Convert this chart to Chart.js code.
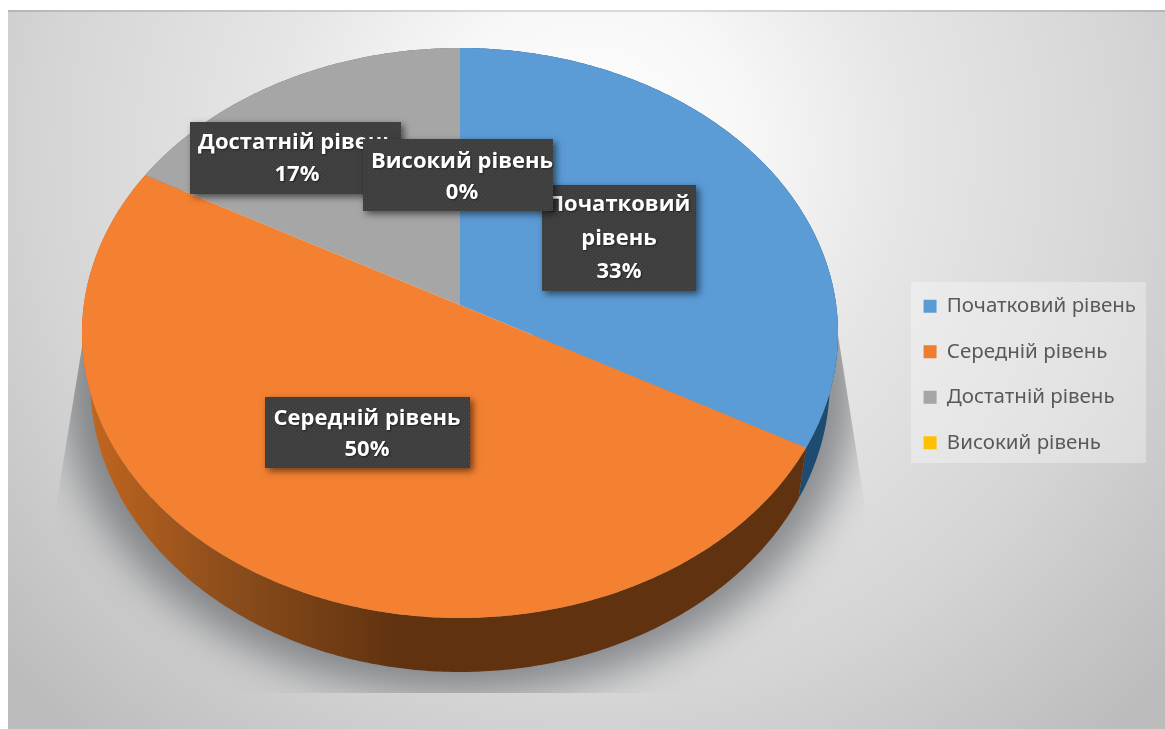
<!DOCTYPE html>
<html lang="uk">
<head>
<meta charset="utf-8">
<title>Рівні</title>
<style>
  html, body { margin: 0; padding: 0; background: #ffffff; }
  #wrap { position: absolute; left: 0; top: 0; width: 1165px; height: 729px; }
</style>
<script src="https://cdn.jsdelivr.net/npm/chart.js@4/dist/chart.umd.min.js"></script>
</head>
<body>
<div id="wrap"><canvas id="levels" width="1165" height="729"></canvas></div>
<script>
// Categories and their shares, in percent.
const categories = ['Початковий рівень', 'Середній рівень', 'Достатній рівень', 'Високий рівень'];
const shares = [33, 50, 17, 0];

const topColors = ['#5b9bd6', '#f48131', '#a6a6a6', '#ffc000'];
const legendColors = ['#5b9bd5', '#ed7d31', '#a5a5a5', '#ffc000'];

// Projection of the unit disc onto the tilted pie's top face.
const face = { cx: 460, apexY: 305, nearGain: 252.3, skew: -0.0982, spread: 376.2 };
// The same disc, pushed down and slightly narrowed, gives the underside.
const under = { cx: 460, apexY: 353.7, nearGain: 252.3, skew: -0.0982, spread: 368 };

function project(p, a) {
  const u = Math.cos(a), v = Math.sin(a), d = 1 + p.skew * v;
  return [p.cx + p.spread * u / d, (p.nearGain * v + p.apexY) / d];
}

function traceRim(ctx, p, from, to, first) {
  const steps = Math.max(2, Math.ceil(Math.abs(to - from) / 0.01));
  for (let i = 0; i <= steps; i++) {
    const pt = project(p, from + (to - from) * i / steps);
    if (i === 0 && first) ctx.moveTo(pt[0], pt[1]); else ctx.lineTo(pt[0], pt[1]);
  }
}

// Top face of one slice: apex, then along the rim.
function drawTiltedSlice(ctx) {
  if (this.endAngle - this.startAngle <= 0) return;
  ctx.save();
  ctx.beginPath();
  ctx.moveTo(face.cx, face.apexY);
  traceRim(ctx, face, this.startAngle, this.endAngle, false);
  ctx.closePath();
  ctx.fillStyle = this.options.backgroundColor;
  ctx.fill();
  ctx.restore();
}

const backdrop = {
  id: 'backdrop',
  beforeDraw(chart) {
    const { ctx } = chart;
    const g = ctx.createRadialGradient(590, 150, 0, 590, 150, 780);
    g.addColorStop(0, '#ffffff');
    g.addColorStop(0.2, '#f7f7f7');
    g.addColorStop(0.4, '#e6e6e6');
    g.addColorStop(0.7, '#d5d5d5');
    g.addColorStop(1, '#bcbcbc');
    ctx.save();
    ctx.fillStyle = g;
    ctx.fillRect(8, 10, 1157, 719);
    ctx.fillStyle = 'rgba(0,0,0,0.12)';
    ctx.fillRect(8, 10, 1157, 2);
    // panel behind the legend
    ctx.fillStyle = 'rgba(255,255,255,0.32)';
    ctx.fillRect(911, 282, 235, 181);
    ctx.restore();
  }
};

const pieBody = {
  id: 'pieBody',
  beforeDatasetsDraw(chart) {
    const { ctx } = chart;
    const arcs = chart.getDatasetMeta(0).data;
    arcs.forEach(el => { el.draw = drawTiltedSlice; });

    // soft cast shadow, cut off along a trapezoid
    ctx.save();
    ctx.beginPath();
    ctx.moveTo(84, 335); ctx.lineTo(838, 335); ctx.lineTo(864, 500); ctx.lineTo(864, 693);
    ctx.lineTo(57, 693); ctx.lineTo(57, 500); ctx.closePath();
    ctx.clip();
    ctx.filter = 'blur(20px)';
    ctx.fillStyle = 'rgba(50,56,62,0.5)';
    ctx.beginPath();
    ctx.ellipse(460, 382, 398, 312, 0, 0, Math.PI * 2);
    ctx.fill();
    ctx.restore();

    // side wall of each slice, swept between the two rims
    const shade = ctx.createLinearGradient(85, 0, 400, 0);
    shade.addColorStop(0, '#c4661f');
    shade.addColorStop(0.4, '#91501c');
    shade.addColorStop(1, '#603210');
    const walls = ['#1e4b70', shade, '#6e6e6e', '#b38600'];
    arcs.forEach((el, i) => {
      if (el.endAngle - el.startAngle <= 0) return;
      ctx.beginPath();
      traceRim(ctx, face, el.startAngle, el.endAngle, true);
      traceRim(ctx, under, el.endAngle, el.startAngle, false);
      ctx.closePath();
      ctx.fillStyle = walls[i];
      ctx.fill();
    });
  }
};

// Dotted weave used to fill the callouts.
function weave(ctx) {
  const tile = document.createElement('canvas');
  tile.width = 4; tile.height = 4;
  const t = tile.getContext('2d');
  t.fillStyle = '#3e3e3e'; t.fillRect(0, 0, 4, 4);
  t.fillStyle = '#4c4c4c'; t.fillRect(0, 0, 1, 1); t.fillRect(2, 2, 1, 1);
  return ctx.createPattern(tile, 'repeat');
}

// Callouts in stacking order; each refers to a category by index.
const callouts = [
  { index: 0, x: 542, y: 185, w: 154, h: 106, cx: 619, lines: ['Початковий', 'рівень'], first: 205, step: 33.5 },
  { index: 1, x: 265, y: 397, w: 205, h: 71, cx: 367, first: 419, step: 31 },
  { index: 2, x: 190, y: 122, w: 211, h: 72, cx: 297, first: 143, step: 31.5 },
  { index: 3, x: 363, y: 139, w: 190, h: 72, cx: 462, first: 162, step: 31 }
];

const calloutPlugin = {
  id: 'callouts',
  afterDatasetsDraw(chart) {
    const { ctx } = chart;
    const fill = weave(ctx);
    const total = shares.reduce((a, b) => a + b, 0);
    callouts.forEach(c => {
      ctx.save();
      ctx.shadowColor = 'rgba(0,0,0,0.55)';
      ctx.shadowBlur = 7;
      ctx.shadowOffsetX = 3;
      ctx.shadowOffsetY = 3;
      ctx.fillStyle = '#3e3e3e';
      ctx.fillRect(c.x, c.y, c.w, c.h);
      ctx.restore();
      ctx.fillStyle = fill;
      ctx.fillRect(c.x, c.y, c.w, c.h);

      const text = (c.lines || [categories[c.index]]).concat(Math.round(shares[c.index] / total * 100) + '%');
      ctx.save();
      ctx.font = 'bold 22px "Open Sans"';
      ctx.textAlign = 'center';
      ctx.textBaseline = 'middle';
      ctx.fillStyle = '#ffffff';
      ctx.shadowColor = 'rgba(0,0,0,0.5)';
      ctx.shadowBlur = 2;
      ctx.shadowOffsetX = 1;
      ctx.shadowOffsetY = 1;
      text.forEach((line, i) => ctx.fillText(line, c.cx, c.first + i * c.step));
      ctx.restore();
    });
  }
};

new Chart(document.getElementById('levels'), {
  type: 'pie',
  data: {
    labels: categories,
    datasets: [{ data: shares, backgroundColor: topColors, borderWidth: 0 }]
  },
  options: {
    responsive: false,
    maintainAspectRatio: false,
    animation: false,
    events: [],
    layout: { padding: { top: 20, right: 19, bottom: 0, left: 0 } },
    plugins: {
      tooltip: { enabled: false },
      title: { display: false },
      legend: {
        position: 'right',
        labels: {
          boxWidth: 13,
          boxHeight: 13,
          padding: 25,
          color: '#595959',
          font: { family: '"Noto Sans"', size: 20.5 },
          generateLabels(chart) {
            return chart.data.labels.map((text, i) => ({
              text, index: i, fillStyle: legendColors[i], strokeStyle: legendColors[i], lineWidth: 0, fontColor: '#595959'
            }));
          }
        }
      }
    }
  },
  plugins: [backdrop, pieBody, calloutPlugin]
});
</script>
</body>
</html>
